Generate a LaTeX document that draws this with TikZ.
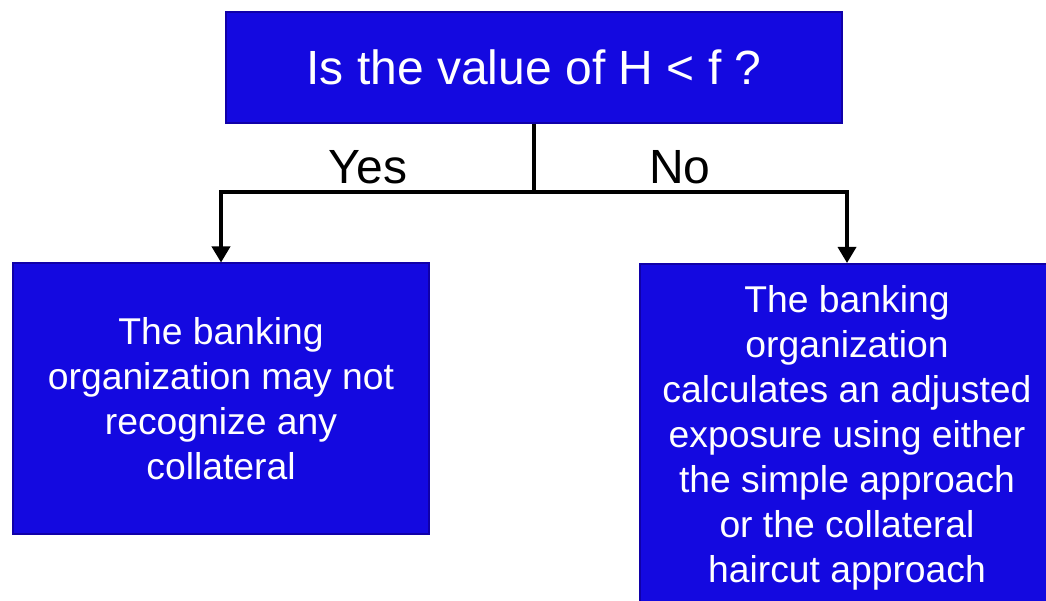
\documentclass[tikz,border=0pt]{standalone}
\usepackage{fontspec}
\setmainfont{Liberation Sans}
\usetikzlibrary{arrows.meta}
\definecolor{boxblue}{RGB}{20,9,224}
\definecolor{boxedge}{RGB}{16,0,168}
\tikzset{
  decision/.style={draw=boxedge, line width=2pt, fill=boxblue, text=white,
    minimum width=616pt, minimum height=111pt, inner sep=0pt,
    font=\fontsize{48}{55}\selectfont},
  outcome/.style={draw=boxedge, line width=2pt, fill=boxblue, text=white,
    minimum width=416pt, inner sep=0pt, align=center,
    font=\fontsize{37.3}{45}\selectfont},
  branch/.style={line width=3.5pt},
  flow/.style={line width=3.5pt, -{Triangle[width=18pt,length=16pt]}},
  answer/.style={font=\fontsize{48}{55}\selectfont}
}
\begin{document}
\begin{tikzpicture}[x=1pt, y=-1pt]
  \useasboundingbox (0,0) rectangle (1046,601);
  \clip (0,0) rectangle (1046,601);
  \node[decision] (q) at (534,67.5) {Is the value of H < f ?};
  \node[outcome, minimum height=270pt] (yesbox) at (221,398.5)
    {The banking\\organization may not\\recognize any\\collateral};
  % the right box runs on past the page edge; a spacer keeps its text centred at x=847
  \node[outcome, minimum height=348pt, minimum width=434pt, align=none] (nobox) at (857,438)
    {\begin{tabular}{c}The banking\\organization\\calculates an adjusted\\exposure using either\\the simple approach\\or the collateral\\haircut approach\end{tabular}\rule{20pt}{0pt}};
  \coordinate (split) at (534,192);
  \coordinate (nodrop) at ([xshift=-10pt]nobox.north);
  \draw[branch] (q.south) -- (split);
  \draw[flow] (split) -| (yesbox.north);
  \draw[flow] (split) -| (nodrop);
  \node[answer] (yes) at (368,167) {Yes};
  \node[answer] (no) at (680,167) {No};
\end{tikzpicture}
\end{document}
